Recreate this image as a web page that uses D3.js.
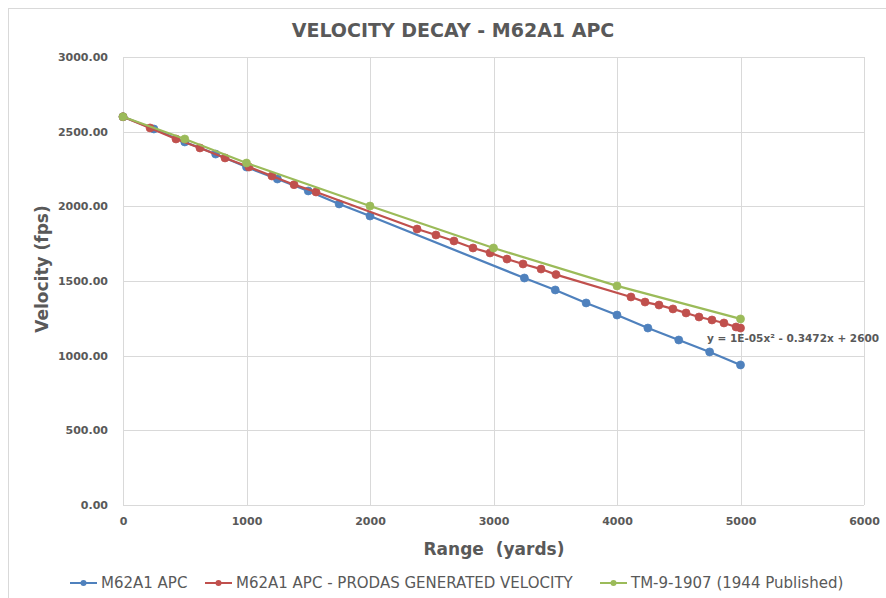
<!DOCTYPE html>
<html>
<head>
<meta charset="utf-8">
<script src="https://cdn.jsdelivr.net/npm/d3@7"></script>
<style>
  body { margin: 0; background: #fff; }
  text { font-family: "DejaVu Sans", sans-serif; fill: #595959; white-space: pre; }
</style>
</head>
<body>
<div id="chart"></div>
<script>
// data
var seriesNames = ['M62A1 APC', 'M62A1 APC - PRODAS GENERATED VELOCITY', 'TM-9-1907 (1944 Published)'];
var seriesColors = ['#4f81bd', '#c0504d', '#9bbb59'];

var apcRange = [0, 250, 500, 750, 1000, 1250, 1500, 1750, 2000, 3250, 3500, 3750, 4000, 4250, 4500, 4750, 5000];
var apcVel = [2600, 2518, 2431, 2350, 2263, 2183, 2103, 2016, 1935, 1520, 1440, 1353, 1272, 1185, 1105, 1025, 938];

var prodasRange = [0, 219, 429, 623, 826, 1020, 1206, 1385, 1563, 2381, 2534, 2680, 2834, 2972, 3109, 3239, 3385, 3506,
  4113, 4227, 4340, 4453, 4559, 4664, 4769, 4866, 4964, 5000];
var prodasVel = [2600, 2525, 2451, 2391, 2324, 2263, 2203, 2145, 2096, 1848, 1808, 1768, 1721, 1688, 1647, 1614, 1580, 1543,
  1393, 1359, 1339, 1313, 1286, 1259, 1239, 1219, 1192, 1185];

var tmRange = [0, 500, 1000, 2000, 3000, 4000, 5000];
var tmVel = [2600, 2451, 2290, 2002, 1721, 1467, 1246];

var xTicks = [0, 1000, 2000, 3000, 4000, 5000, 6000];
var yTicks = [0, 500, 1000, 1500, 2000, 2500, 3000];
var trendLabel = 'y = 1E-05x² - 0.3472x + 2600';

var width = 886, height = 598;
var svg = d3.select('#chart').append('svg')
  .attr('width', width)
  .attr('height', height);

// chart frame
svg.append('rect')
  .attr('x', 8.5).attr('y', 8.5)
  .attr('width', 900).attr('height', 600)
  .style('fill', 'none')
  .style('stroke', '#d9d9d9');

var x = d3.scaleLinear().domain([0, 6000]).range([123, 864]);
var y = d3.scaleLinear().domain([0, 3000]).range([505, 57]);

// gridlines
var grid = svg.append('g');
grid.selectAll('.hgrid').data(yTicks).enter().append('line')
  .attr('x1', x(0)).attr('x2', x(6000))
  .attr('y1', function(d){ return Math.round(y(d)) + 0.5; })
  .attr('y2', function(d){ return Math.round(y(d)) + 0.5; })
  .style('stroke', '#d9d9d9').style('stroke-width', '1px');
grid.selectAll('.vgrid').data(xTicks).enter().append('line')
  .attr('y1', y(0)).attr('y2', y(3000))
  .attr('x1', function(d){ return Math.round(x(d)) + 0.5; })
  .attr('x2', function(d){ return Math.round(x(d)) + 0.5; })
  .style('stroke', '#d9d9d9').style('stroke-width', '1px');

// axes labels via d3 axes, with lines hidden
var yAxis = svg.append('g')
  .attr('transform', 'translate(' + x(0) + ',0)')
  .call(d3.axisLeft(y).tickValues(yTicks).tickFormat(d3.format('.2f')).tickSize(0).tickPadding(15));
var xAxis = svg.append('g')
  .attr('transform', 'translate(0,' + y(0) + ')')
  .call(d3.axisBottom(x).tickValues(xTicks).tickFormat(d3.format('d')).tickSize(0).tickPadding(12));
[xAxis, yAxis].forEach(function(a){
  a.select('.domain').remove();
  a.selectAll('text')
    .style('font-family', '"DejaVu Sans", sans-serif')
    .style('font-size', '11px')
    .style('font-weight', '700')
    .style('fill', '#595959');
});

// title & axis titles
svg.append('text')
  .attr('x', 453).attr('y', 37)
  .attr('text-anchor', 'middle')
  .style('font-size', '19px').style('font-weight', '700')
  .text('VELOCITY DECAY - M62A1 APC');
svg.append('text')
  .attr('x', 494).attr('y', 555)
  .attr('text-anchor', 'middle')
  .style('font-size', '17px').style('font-weight', '700')
  .text('Range  (yards)');
svg.append('text')
  .attr('transform', 'translate(48,' + 269 + ') rotate(-90)')
  .attr('text-anchor', 'middle')
  .style('font-size', '17px').style('font-weight', '700')
  .text('Velocity (fps)');

// series
var series = [
  {r: apcRange, v: apcVel},
  {r: prodasRange, v: prodasVel},
  {r: tmRange, v: tmVel}
];
var line = d3.line()
  .x(function(d){ return x(d[0]); })
  .y(function(d){ return y(d[1]); });

series.forEach(function(s, i){
  var pts = s.r.map(function(r, j){ return [r, s.v[j]]; });
  var g = svg.append('g');
  g.append('path')
    .datum(pts)
    .attr('d', line)
    .style('fill', 'none')
    .style('stroke', seriesColors[i])
    .style('stroke-width', '2.25px');
  g.selectAll('circle').data(pts).enter().append('circle')
    .attr('cx', function(d){ return x(d[0]); })
    .attr('cy', function(d){ return y(d[1]); })
    .attr('r', 4)
    .style('fill', seriesColors[i])
    .style('stroke', seriesColors[i])
    .style('stroke-width', '0.75px');
});

// trendline equation
svg.append('text')
  .attr('x', 707).attr('y', 342)
  .style('font-size', '10.5px').style('font-weight', '700')
  .text(trendLabel);

// legend
var legendX = [70, 205, 600];
var legend = svg.selectAll('.legend').data(seriesNames).enter().append('g')
  .attr('transform', function(d, i){ return 'translate(' + legendX[i] + ',583)'; });
legend.append('line')
  .attr('x1', 0).attr('x2', 27)
  .style('stroke', function(d, i){ return seriesColors[i]; })
  .style('stroke-width', '2px');
legend.append('circle')
  .attr('cx', 13.5).attr('r', 3)
  .style('fill', function(d, i){ return seriesColors[i]; });
legend.append('text')
  .attr('x', 31).attr('dy', '0.35em')
  .style('font-size', '15px').style('font-weight', '400')
  .text(function(d){ return d; });
</script>
</body>
</html>
